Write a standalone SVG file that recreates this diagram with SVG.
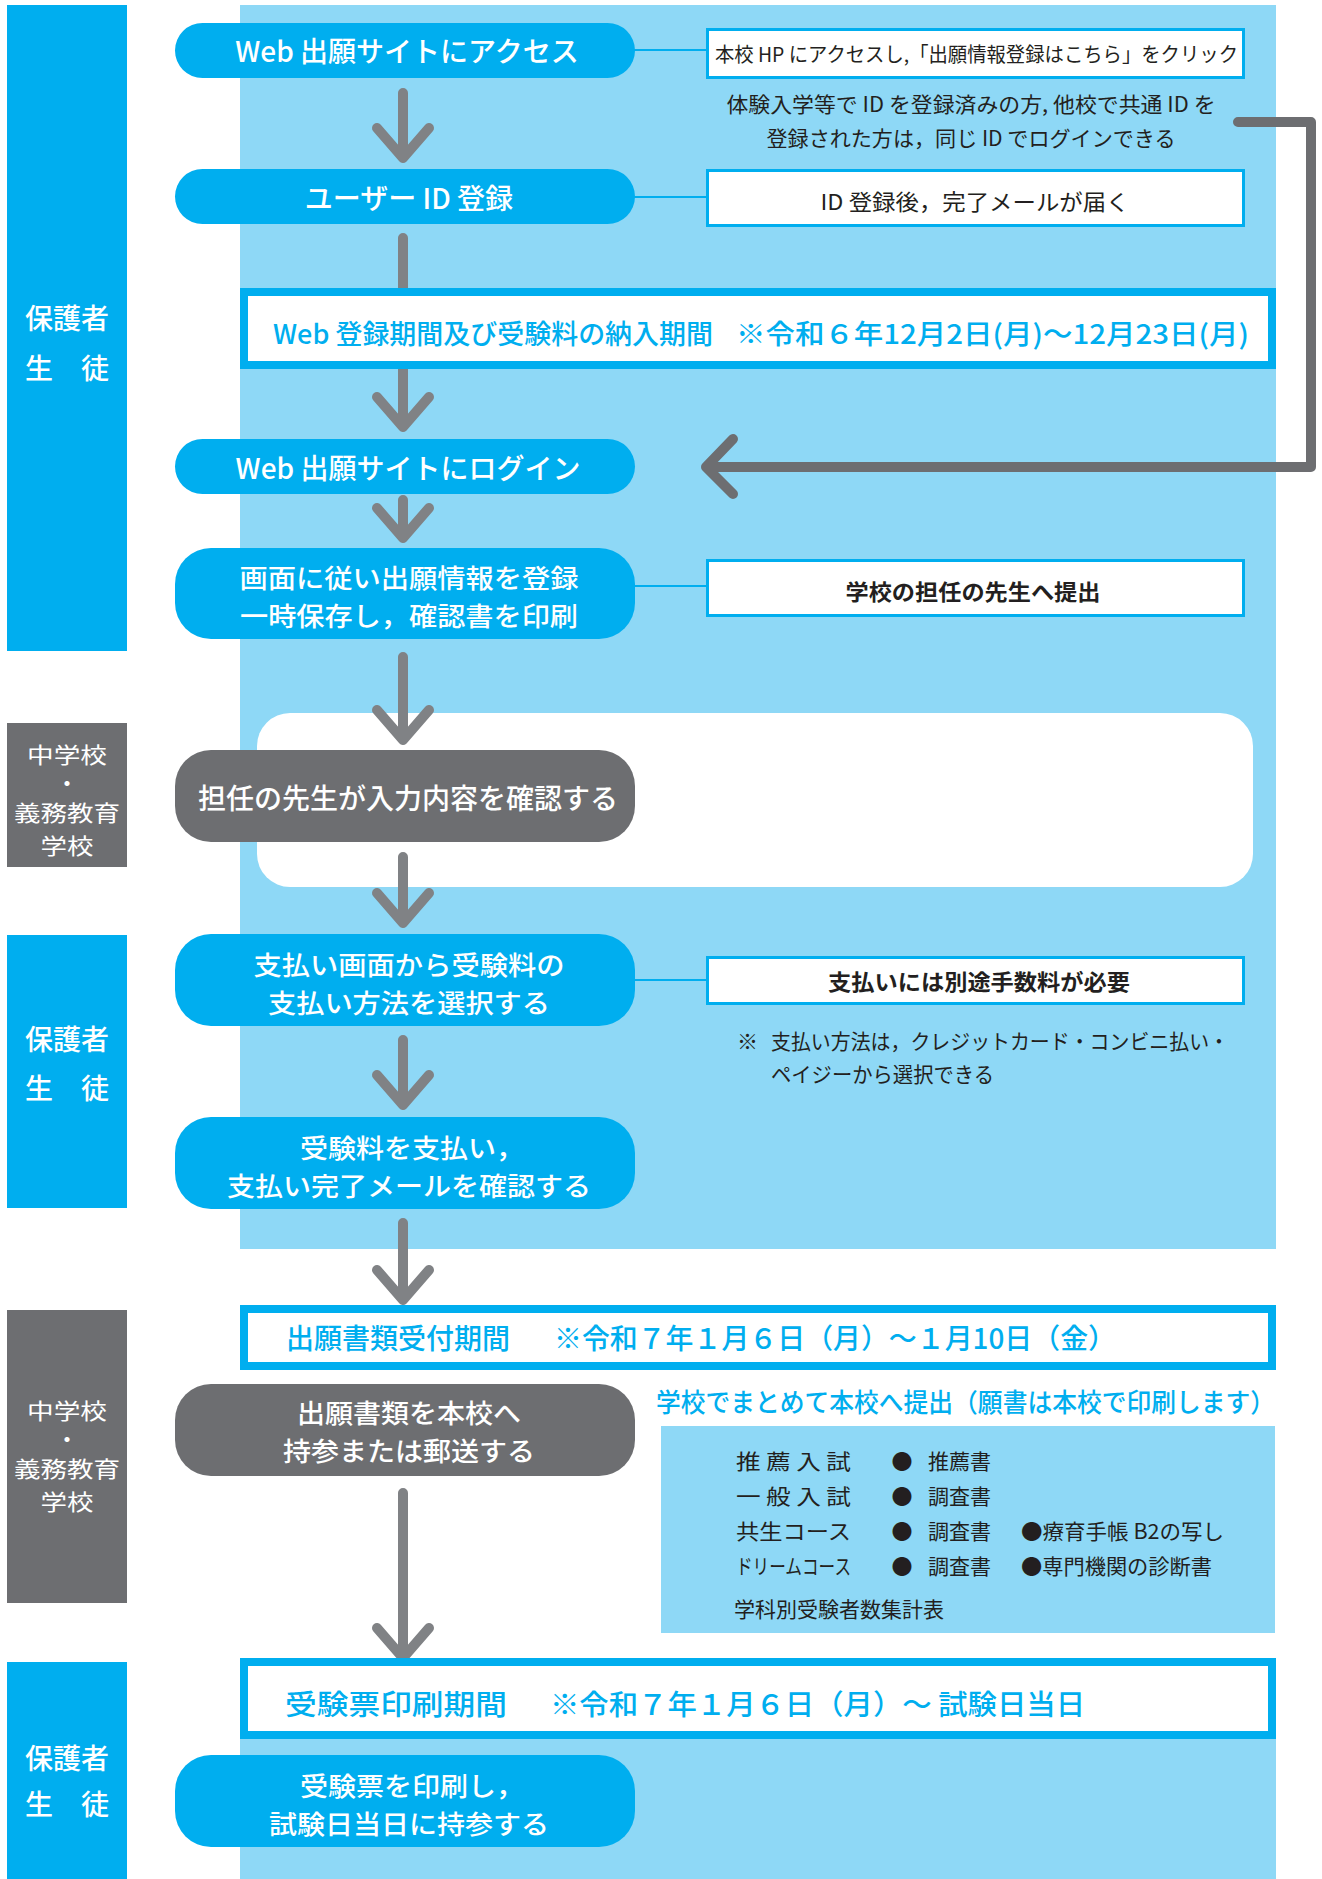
<svg xmlns="http://www.w3.org/2000/svg" width="1322" height="1879" viewBox="0 0 1322 1879">
<style>
text{font-family:"Noto Sans CJK JP","Noto Sans",sans-serif;dominant-baseline:central}
.band-b{fill:#00AEEF}
.band-g{fill:#6D6E71}
.band-t{fill:#fff;font-size:28px;font-weight:500;text-anchor:middle}
.band-s{fill:#fff;font-size:22px;font-weight:400;text-anchor:middle}
.band-d{fill:#fff;font-size:18px;font-weight:900;text-anchor:middle}
.bg{fill:#8ED8F6}
.pill{fill:#00AEEF}
.pill-g{fill:#6D6E71}
.pt{fill:#fff;font-size:28px;font-weight:500;text-anchor:middle}
.pt2{fill:#fff;font-size:26px;font-weight:500;text-anchor:middle}
.period{fill:#fff;stroke:#00AEEF;stroke-width:8}
.ptxt{fill:#00AEEF;font-size:28px;font-weight:500}
.box{fill:#fff;stroke:#00AEEF;stroke-width:3}
.bt{fill:#231F20;font-size:21px;text-anchor:middle}
.btb{fill:#231F20;font-size:22px;font-weight:700;text-anchor:middle}
.lt{fill:#231F20;font-size:21px}
.link{stroke:#00AEEF;stroke-width:2;fill:none}
.arr{stroke:#808285;stroke-width:10;fill:none;stroke-linecap:round;stroke-linejoin:round}
.loop{stroke:#6D6E71;stroke-width:10;fill:none;stroke-linecap:round;stroke-linejoin:round}
</style>

<g id="backgrounds">
<rect class="bg" x="240" y="5" width="1036" height="1244"/>
<rect x="257" y="713" width="996" height="174" rx="33" fill="#fff"/>
<rect class="bg" x="661" y="1426" width="614" height="207"/>
<rect class="bg" x="240" y="1700" width="1036" height="179"/>
</g>

<g id="band-1">
<rect class="band-b" x="7" y="5" width="120" height="646"/>
<text class="band-t" x="67" y="317">保護者</text>
<text class="band-t" x="67" y="367">生　徒</text>
</g>
<g id="band-2">
<rect class="band-g" x="7" y="723" width="120" height="144"/>
<text class="band-s" x="67" y="753" textLength="80" lengthAdjust="spacingAndGlyphs">中学校</text>
<text class="band-d" x="67" y="782">・</text>
<text class="band-s" x="67" y="811" textLength="106" lengthAdjust="spacingAndGlyphs">義務教育</text>
<text class="band-s" x="67" y="844" textLength="53" lengthAdjust="spacingAndGlyphs">学校</text>
</g>
<g id="band-3">
<rect class="band-b" x="7" y="935" width="120" height="273"/>
<text class="band-t" x="67" y="1038">保護者</text>
<text class="band-t" x="67" y="1087">生　徒</text>
</g>
<g id="band-4">
<rect class="band-g" x="7" y="1310" width="120" height="293"/>
<text class="band-s" x="67" y="1409" textLength="80" lengthAdjust="spacingAndGlyphs">中学校</text>
<text class="band-d" x="67" y="1438">・</text>
<text class="band-s" x="67" y="1467" textLength="106" lengthAdjust="spacingAndGlyphs">義務教育</text>
<text class="band-s" x="67" y="1500" textLength="53" lengthAdjust="spacingAndGlyphs">学校</text>
</g>
<g id="band-5">
<rect class="band-b" x="7" y="1662" width="120" height="217"/>
<text class="band-t" x="67" y="1757">保護者</text>
<text class="band-t" x="67" y="1803">生　徒</text>
</g>

<g id="connectors">
<line class="link" x1="630" y1="50" x2="707" y2="50"/>
<line class="link" x1="630" y1="197" x2="707" y2="197"/>
<line class="link" x1="630" y1="586" x2="707" y2="586"/>
<line class="link" x1="630" y1="980" x2="707" y2="980"/>
<path class="arr" d="M403 93V157M377 128L403 158L429 128"/>
<path class="arr" d="M403 238V426M377 397L403 427L429 397"/>
<path class="arr" d="M403 500V537M377 508L403 538L429 508"/>
<path class="arr" d="M403 657V739M377 710L403 740L429 710"/>
<path class="arr" d="M403 857V922M377 893L403 923L429 893"/>
<path class="arr" d="M403 1040V1104M377 1075L403 1105L429 1075"/>
<path class="arr" d="M403 1223V1299M377 1270L403 1300L429 1270"/>
<path class="arr" d="M403 1493V1657M377 1628L403 1658L429 1628"/>
<path class="loop" d="M1238 122H1311V467H706M733 439L706 467L733 494"/>
</g>

<g id="node-access">
<rect class="pill" x="175" y="23" width="460" height="55" rx="27.5"/>
<text class="pt" x="407" y="50">Web 出願サイトにアクセス</text>
</g>
<g id="note-access">
<rect class="box" x="707.5" y="29.5" width="536" height="48"/>
<text class="lt" x="715" y="53" textLength="523" lengthAdjust="spacingAndGlyphs" style="font-size:20px">本校 HP にアクセスし,「出願情報登録はこちら」をクリック</text>
</g>
<g id="note-id">
<text class="bt" x="971" y="103" textLength="489" lengthAdjust="spacingAndGlyphs">体験入学等で ID を登録済みの方, 他校で共通 ID を</text>
<text class="bt" x="971" y="137" textLength="409" lengthAdjust="spacingAndGlyphs">登録された方は，同じ ID でログインできる</text>
</g>
<g id="node-userid">
<rect class="pill" x="175" y="169" width="460" height="55" rx="27.5"/>
<text class="pt" x="409" y="197">ユーザー ID 登録</text>
</g>
<g id="note-mail">
<rect class="box" x="707.5" y="170.5" width="536" height="55"/>
<text class="bt" x="975" y="200" textLength="309" lengthAdjust="spacingAndGlyphs" style="font-size:22px">ID 登録後，完了メールが届く</text>
</g>
<g id="period-web">
<rect class="period" x="244" y="292" width="1028" height="73"/>
<text class="ptxt" x="273" y="332" textLength="440" lengthAdjust="spacingAndGlyphs" style="font-size:27px">Web 登録期間及び受験料の納入期間</text>
<text class="ptxt" x="736" y="332" textLength="513" lengthAdjust="spacingAndGlyphs" style="font-size:27px">※令和６年12月2日(月)～12月23日(月)</text>
</g>
<g id="node-login">
<rect class="pill" x="175" y="439" width="460" height="55" rx="27.5"/>
<text class="pt" x="408" y="467">Web 出願サイトにログイン</text>
</g>
<g id="node-register">
<rect class="pill" x="175" y="548" width="460" height="91" rx="36"/>
<text class="pt2" x="409" y="576" textLength="339" lengthAdjust="spacingAndGlyphs">画面に従い出願情報を登録</text>
<text class="pt2" x="409" y="614" textLength="338" lengthAdjust="spacingAndGlyphs">一時保存し，確認書を印刷</text>
</g>
<g id="note-submit">
<rect class="box" x="707.5" y="560.5" width="536" height="55"/>
<text class="btb" x="973" y="590" textLength="255" lengthAdjust="spacingAndGlyphs">学校の担任の先生へ提出</text>
</g>
<g id="node-teacher">
<rect class="pill-g" x="175" y="750" width="460" height="92" rx="36"/>
<text class="pt" x="408" y="797">担任の先生が入力内容を確認する</text>
</g>
<g id="node-paymethod">
<rect class="pill" x="175" y="934" width="460" height="92" rx="36"/>
<text class="pt2" x="409" y="963" textLength="311" lengthAdjust="spacingAndGlyphs">支払い画面から受験料の</text>
<text class="pt2" x="409" y="1001" textLength="282" lengthAdjust="spacingAndGlyphs">支払い方法を選択する</text>
</g>
<g id="note-fee">
<rect class="box" x="707.5" y="957.5" width="536" height="46"/>
<text class="btb" x="979" y="980" textLength="302" lengthAdjust="spacingAndGlyphs">支払いには別途手数料が必要</text>
</g>
<g id="note-methods">
<text class="lt" x="737" y="1040">※</text>
<text class="lt" x="771" y="1040" textLength="458" lengthAdjust="spacingAndGlyphs">支払い方法は，クレジットカード・コンビニ払い・</text>
<text class="lt" x="771" y="1073" textLength="223" lengthAdjust="spacingAndGlyphs">ペイジーから選択できる</text>
</g>
<g id="node-pay">
<rect class="pill" x="175" y="1117" width="460" height="92" rx="36"/>
<text class="pt2" x="412" y="1146" textLength="224" lengthAdjust="spacingAndGlyphs">受験料を支払い，</text>
<text class="pt2" x="409" y="1184" textLength="364" lengthAdjust="spacingAndGlyphs">支払い完了メールを確認する</text>
</g>
<g id="period-docs">
<rect class="period" x="244" y="1309" width="1028" height="57"/>
<text class="ptxt" x="286" y="1337" textLength="224" lengthAdjust="spacingAndGlyphs">出願書類受付期間</text>
<text class="ptxt" x="554" y="1337" textLength="562" lengthAdjust="spacingAndGlyphs">※令和７年１月６日（月）～１月10日（金）</text>
</g>
<g id="node-send">
<rect class="pill-g" x="175" y="1384" width="460" height="92" rx="36"/>
<text class="pt2" x="409" y="1411" textLength="224" lengthAdjust="spacingAndGlyphs">出願書類を本校へ</text>
<text class="pt2" x="409" y="1449" textLength="252" lengthAdjust="spacingAndGlyphs">持参または郵送する</text>
</g>
<g id="note-school">
<text x="656" y="1400" textLength="619" lengthAdjust="spacingAndGlyphs" style="fill:#00AEEF;font-size:26px;font-weight:500">学校でまとめて本校へ提出（願書は本校で印刷します）</text>
</g>
<g id="doc-list">
<text class="lt" x="736" y="1460" textLength="115" lengthAdjust="spacingAndGlyphs">推 薦 入 試</text>
<text class="lt" x="736" y="1495" textLength="115" lengthAdjust="spacingAndGlyphs">一 般 入 試</text>
<text class="lt" x="736" y="1530" textLength="115" lengthAdjust="spacingAndGlyphs">共生コース</text>
<text class="lt" x="736" y="1565" textLength="115" lengthAdjust="spacingAndGlyphs">ドリームコース</text>
<text class="lt" x="902" y="1460" style="text-anchor:middle">●</text>
<text class="lt" x="902" y="1495" style="text-anchor:middle">●</text>
<text class="lt" x="902" y="1530" style="text-anchor:middle">●</text>
<text class="lt" x="902" y="1565" style="text-anchor:middle">●</text>
<text class="lt" x="928" y="1460">推薦書</text>
<text class="lt" x="928" y="1495">調査書</text>
<text class="lt" x="928" y="1530">調査書</text>
<text class="lt" x="928" y="1565">調査書</text>
<text class="lt" x="1021" y="1530" textLength="203" lengthAdjust="spacingAndGlyphs">●療育手帳 B2の写し</text>
<text class="lt" x="1021" y="1565" textLength="191" lengthAdjust="spacingAndGlyphs">●専門機関の診断書</text>
<text class="lt" x="734" y="1608" textLength="210" lengthAdjust="spacingAndGlyphs">学科別受験者数集計表</text>
</g>
<g id="period-ticket">
<rect class="period" x="244" y="1662" width="1028" height="73"/>
<text class="ptxt" x="285" y="1703" textLength="222" lengthAdjust="spacingAndGlyphs">受験票印刷期間</text>
<text class="ptxt" x="550" y="1703" textLength="535" lengthAdjust="spacingAndGlyphs">※令和７年１月６日（月）～ 試験日当日</text>
</g>
<g id="node-ticket">
<rect class="pill" x="175" y="1755" width="460" height="92" rx="36"/>
<text class="pt2" x="412" y="1784" textLength="224" lengthAdjust="spacingAndGlyphs">受験票を印刷し，</text>
<text class="pt2" x="409" y="1822" textLength="280" lengthAdjust="spacingAndGlyphs">試験日当日に持参する</text>
</g>
</svg>
